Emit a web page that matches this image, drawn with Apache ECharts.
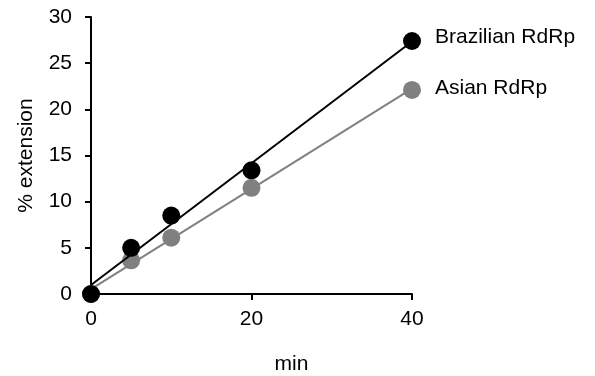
<!DOCTYPE html>
<html>
<head>
<meta charset="utf-8">
<script src="https://cdn.jsdelivr.net/npm/echarts@6/dist/echarts.min.js"></script>
<style>html,body{margin:0;padding:0;background:#fff;}#c{width:595px;height:376px;}</style>
</head>
<body>
<div id="c"></div>
<script>
var minutes = [0, 5, 10, 20, 40];
var brazilian = [0, 5.0, 8.5, 13.4, 27.4];
var asian = [0, 3.65, 6.1, 11.5, 22.1];
var seriesNames = ['Brazilian RdRp', 'Asian RdRp'];
var xTicks = [0, 20, 40];
var yTicks = [0, 5, 10, 15, 20, 25, 30];

function fit(xs, ys) {
  var n = xs.length, mx = 0, my = 0;
  for (var i = 0; i < n; i++) { mx += xs[i]; my += ys[i]; }
  mx /= n; my /= n;
  var sxy = 0, sxx = 0;
  for (var j = 0; j < n; j++) { sxy += (xs[j]-mx)*(ys[j]-my); sxx += (xs[j]-mx)*(xs[j]-mx); }
  var b = sxy / sxx, a = my - b * mx;
  var x0 = xs[0], x1 = xs[n-1];
  return [[x0, a + b*x0], [x1, a + b*x1]];
}
function pts(xs, ys) { return xs.map(function (x, i) { return [x, ys[i]]; }); }

var font = 'Liberation Sans, Arial, sans-serif';
var FS = 21;
var chart = echarts.init(document.getElementById('c'));
function scatter(name, ys, color, z, dy) {
  var d = pts(minutes, ys);
  return {
    name: name, type: 'scatter', z: z, symbol: 'circle', symbolSize: 18,
    itemStyle: { color: color, opacity: 1 },
    data: d.map(function (p, i) {
      return i === d.length - 1 ? { value: p, label: { show: true, formatter: name, position: 'right', distance: 14, offset: [0, dy], color: '#000', fontSize: FS, fontFamily: font } } : p;
    })
  };
}
function trend(ys, color, z) {
  return { type: 'line', z: z, data: fit(minutes, ys), symbol: 'none', silent: true,
    lineStyle: { color: color, width: 2 } };
}
chart.setOption({
  animation: false,
  grid: { left: 91, right: 183, top: 17, bottom: 82, containLabel: false, outerBoundsMode: 'none' },
  xAxis: {
    type: 'value', min: 0, max: 40, interval: 20,
    name: 'min', nameLocation: 'middle', nameGap: 60,
    nameTextStyle: { color: '#000', fontSize: FS, fontFamily: font, padding: [0, 0, 0, 80] },
    axisLine: { show: true, onZero: false, lineStyle: { color: '#000', width: 2 } },
    axisTick: { show: true, length: 6, lineStyle: { color: '#000', width: 2 } },
    axisLabel: { color: '#000', fontSize: FS, fontFamily: font, margin: 15,
      formatter: function (v) { return xTicks.indexOf(v) >= 0 ? String(v) : ''; } },
    splitLine: { show: false }
  },
  yAxis: {
    type: 'value', min: 0, max: 30, interval: 5,
    name: '% extension', nameLocation: 'middle', nameGap: 54, nameRotate: 90,
    nameTextStyle: { color: '#000', fontSize: FS, fontFamily: font },
    axisLine: { show: true, onZero: false, lineStyle: { color: '#000', width: 2 } },
    axisTick: { show: true, length: 6, lineStyle: { color: '#000', width: 2 } },
    axisLabel: { color: '#000', fontSize: FS, fontFamily: font, margin: 19,
      formatter: function (v) { return yTicks.indexOf(v) >= 0 ? String(v) : ''; } },
    splitLine: { show: false }
  },
  series: [
    scatter(seriesNames[1], asian, '#808080', 2, -2),
    trend(asian, '#808080', 3),
    scatter(seriesNames[0], brazilian, '#000000', 4, -4),
    trend(brazilian, '#000000', 5)
  ]
});
</script>
</body>
</html>
